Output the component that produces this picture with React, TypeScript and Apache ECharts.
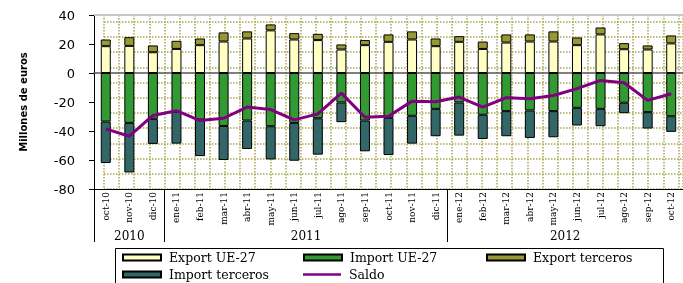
import React, { useEffect, useRef } from 'react';
import * as echarts from 'echarts';

const categories = [
  'oct-10', 'nov-10', 'dic-10',
  'ene-11', 'feb-11', 'mar-11', 'abr-11', 'may-11', 'jun-11', 'jul-11', 'ago-11', 'sep-11', 'oct-11', 'nov-11', 'dic-11',
  'ene-12', 'feb-12', 'mar-12', 'abr-12', 'may-12', 'jun-12', 'jul-12', 'ago-12', 'sep-12', 'oct-12',
];

const exportUE = [18.5, 18.7, 14.3, 16.6, 19.2, 21.7, 23.8, 29.4, 23.1, 22.7, 16.2, 19.2, 21.5, 23.1, 18.5, 21.5, 16.6, 21.0, 21.7, 21.7, 19.2, 26.6, 16.4, 16.2, 20.4];
const exportTerceros = [4.6, 6.0, 4.7, 5.6, 4.6, 6.3, 4.9, 4.1, 4.4, 4.3, 3.5, 3.5, 5.1, 5.6, 5.3, 3.9, 5.1, 5.6, 4.9, 7.0, 5.3, 4.8, 4.2, 2.8, 5.5];
const importUE = [-33.5, -34.4, -31.6, -26.8, -32.1, -36.5, -32.8, -36.7, -34.4, -31.2, -20.3, -32.8, -30.9, -29.5, -24.7, -20.3, -28.8, -26.3, -25.8, -26.3, -24.0, -24.7, -20.5, -27.0, -29.8];
const importTerceros = [-28.6, -34.2, -17.3, -21.9, -25.2, -23.5, -19.6, -22.9, -26.1, -25.1, -13.6, -21.2, -25.7, -19.2, -18.9, -22.9, -16.7, -17.3, -19.0, -18.0, -12.2, -12.0, -7.2, -11.3, -10.8];
const saldo = [-38.5, -43.6, -29.3, -26.0, -32.8, -31.2, -23.5, -25.2, -32.3, -28.2, -13.9, -30.5, -29.8, -19.4, -19.8, -16.6, -23.5, -17.0, -17.7, -15.5, -10.8, -5.1, -6.7, -18.9, -14.3];

const years = ['2010', '2011', '2012'];
const yearStarts = [0, 3, 15];
const yearEnds = [3, 15, 25];

const yTicks = { min: -80, max: 40, interval: 20 };

export default function App() {
  const ref = useRef<HTMLDivElement>(null);

  useEffect(() => {
    const chart = echarts.init(ref.current as HTMLDivElement, null, { renderer: 'svg' });
    const yearMid = years.map((_, i) => (yearStarts[i] + yearEnds[i]) / 2);
    const gridBox = { left: 94, right: -7, top: 15, bottom: 94 };
    const serif = 'DejaVu Serif';

    const legendBase = {
      padding: 0,
      icon: 'rect',
      itemWidth: 38,
      itemHeight: 6,
      selectedMode: false,
      textStyle: { fontFamily: serif, fontSize: 12.5, color: '#000', padding: [0, 0, 0, 3] },
    };

    const barBase = {
      type: 'bar',
      stack: 'total',
      barWidth: 10,
      xAxisIndex: 0,
      yAxisIndex: 0,
    };

    const option: any = {
      animation: false,
      grid: [
        { ...gridBox },
        { left: 104, right: -7, top: 15, bottom: 94 },
        { ...gridBox },
      ],
      xAxis: [
        {
          type: 'category', gridIndex: 0, data: categories, position: 'top',
          axisLine: { onZero: true, lineStyle: { color: '#555', width: 1.5 } },
          axisTick: { inside: true, length: 3, lineStyle: { color: '#555' } },
          axisLabel: { show: false },
          splitLine: { show: false },
        },
        {
          type: 'category', gridIndex: 0, data: categories, position: 'bottom',
          axisLine: { onZero: false, lineStyle: { color: '#000', width: 1 } },
          axisTick: { length: 34, lineStyle: { color: '#000' } },
          axisLabel: { interval: 0, rotate: 90, margin: 3, fontSize: 9, fontFamily: serif, color: '#000' },
          splitLine: { show: false },
        },
        {
          type: 'value', gridIndex: 1, min: 0, max: 38.3, interval: 1,
          axisLine: { show: false, onZero: false },
          axisTick: { show: false },
          axisLabel: { show: false },
          splitLine: { show: true, lineStyle: { color: '#a8a850', width: 1.5, type: [1.5, 1.5] } },
        },
        {
          type: 'value', gridIndex: 2, min: 0, max: 25, position: 'bottom',
          axisLine: { show: false, onZero: false },
          axisTick: { show: true, length: 53, customValues: [...yearStarts, 25], lineStyle: { color: '#000' } },
          axisLabel: {
            show: true, customValues: yearMid, margin: 41, fontSize: 12, fontFamily: serif, color: '#000',
            formatter: (v: number) => {
              const i = yearMid.indexOf(v);
              return i >= 0 ? years[i] : '';
            },
          },
          splitLine: { show: false },
        },
        {
          type: 'value', gridIndex: 2, min: 0, max: 25, position: 'top',
          axisLine: { show: true, onZero: false, lineStyle: { color: '#c8c8c8', width: 2 } },
          axisTick: { show: false },
          axisLabel: { show: false },
          splitLine: { show: false },
        },
      ],
      yAxis: [
        {
          type: 'value', gridIndex: 0, ...yTicks,
          name: 'Millones de euros', nameLocation: 'middle', nameRotate: 90, nameGap: 66,
          nameTextStyle: { fontFamily: 'DejaVu Sans', fontWeight: 'bold', fontSize: 10, color: '#000' },
          axisLine: { show: true, onZero: false, lineStyle: { color: '#000', width: 1 } },
          axisTick: { show: true, length: 5, lineStyle: { color: '#000' } },
          axisLabel: { fontFamily: 'DejaVu Sans', fontSize: 13, color: '#000', margin: 19 },
          splitLine: { show: false },
        },
        {
          type: 'value', gridIndex: 1, min: 0, max: 11.45, interval: 1,
          axisLine: { show: false, onZero: false },
          axisTick: { show: false },
          axisLabel: { show: false },
          splitLine: { show: true, lineStyle: { color: '#a8a850', width: 1.5, type: [1.5, 1.5] } },
        },
        {
          type: 'value', gridIndex: 2, min: 0, max: 1, show: false,
        },
      ],
      legend: [
        { ...legendBase, data: ['Export UE-27'], left: 122, top: 251 },
        { ...legendBase, data: ['Import UE-27'], left: 303, top: 251 },
        { ...legendBase, data: ['Export terceros'], left: 486, top: 251 },
        { ...legendBase, data: ['Import terceros'], left: 122, top: 268 },
        { ...legendBase, data: ['Saldo'], left: 303, top: 268, itemHeight: 2.5 },
      ],
      graphic: [
        {
          type: 'rect', z: -1, silent: true,
          shape: { x: 115.5, y: 248.5, width: 548, height: 50 },
          style: { fill: 'none', stroke: '#000', lineWidth: 1 },
        },
      ],
      series: [
        { ...barBase, name: 'Export UE-27', data: exportUE, itemStyle: { color: '#ffffc4', borderColor: '#000', borderWidth: 1 } },
        { ...barBase, name: 'Import UE-27', data: importUE, itemStyle: { color: '#339933', borderColor: '#000', borderWidth: 1 } },
        { ...barBase, name: 'Export terceros', data: exportTerceros, itemStyle: { color: '#999933', borderColor: '#000', borderWidth: 1 } },
        { ...barBase, name: 'Import terceros', data: importTerceros, itemStyle: { color: '#336666', borderColor: '#000', borderWidth: 1 } },
        {
          type: 'line', name: 'Saldo', data: saldo, xAxisIndex: 0, yAxisIndex: 0,
          symbol: 'none', z: 5,
          lineStyle: { color: '#800080', width: 3 },
          itemStyle: { color: '#800080', borderWidth: 0 },
        },
      ],
    };

    chart.setOption(option);
    return () => chart.dispose();
  }, []);

  return <div ref={ref} style={{ position: 'fixed', left: 0, top: 0, width: 683, height: 283 }} />;
}
